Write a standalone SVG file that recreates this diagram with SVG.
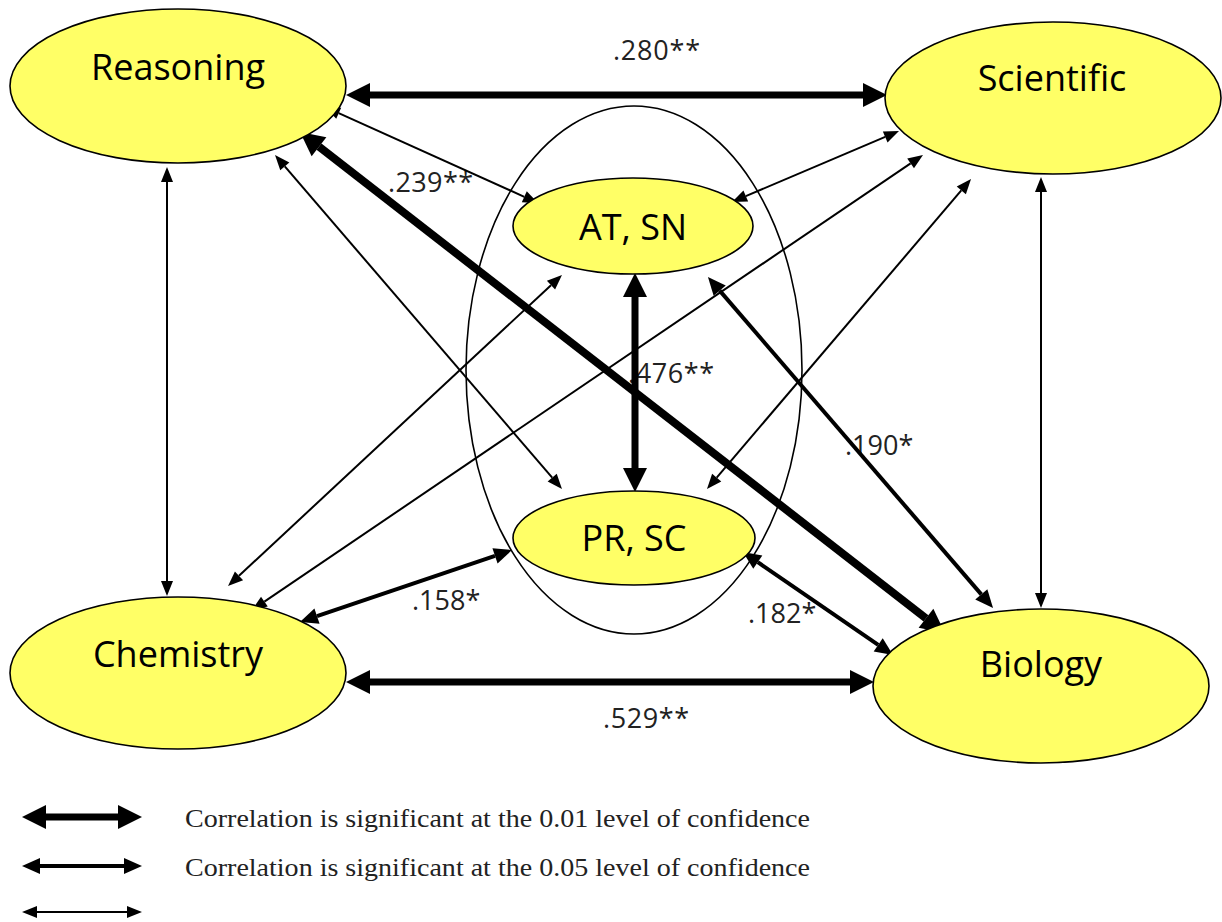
<svg xmlns="http://www.w3.org/2000/svg" width="1222" height="922" viewBox="0 0 1222 922">
<style>
.node{fill:#FFFF66;stroke:#000;stroke-width:1.6}
.ntext{font-family:"Open Sans","Noto Sans",sans-serif;font-size:36px;fill:#000;text-anchor:middle}
.lbl{font-family:"Open Sans","Noto Sans",sans-serif;font-size:27px;fill:#222}
.thick{stroke:#000;stroke-width:7;fill:none;marker-start:url(#hThick);marker-end:url(#hThick)}
.med{stroke:#000;stroke-width:4;fill:none;marker-start:url(#hMed);marker-end:url(#hMed)}
.thin{stroke:#000;stroke-width:2;fill:none;marker-start:url(#hThin);marker-end:url(#hThin)}
.leg{font-family:"Liberation Serif","Times New Roman",serif;font-size:26px;fill:#222}
</style>
<defs>
<marker id="hThick" markerUnits="userSpaceOnUse" markerWidth="26" markerHeight="24" refX="0" refY="12" orient="auto-start-reverse" overflow="visible"><path d="M0,0 L24,12 L0,24 z" fill="#000"/></marker>
<marker id="hMed" markerUnits="userSpaceOnUse" markerWidth="20" markerHeight="18" refX="0" refY="8" orient="auto-start-reverse" overflow="visible"><path d="M0,0 L18,8 L0,16 z" fill="#000"/></marker>
<marker id="hThin" markerUnits="userSpaceOnUse" markerWidth="16" markerHeight="14" refX="0" refY="6" orient="auto-start-reverse" overflow="visible"><path d="M0,0 L15,6 L0,12 z" fill="#000"/></marker>
</defs>
<rect width="1222" height="922" fill="#fff"/>
<ellipse id="group-ellipse" cx="634" cy="370" rx="168" ry="264" fill="none" stroke="#000" stroke-width="1.6"/>
<g id="labels">
<text class="lbl" x="613" y="60" textLength="87">.280**</text>
<text class="lbl" x="388" y="192" textLength="85">.239**</text>
<text class="lbl" x="628" y="383" textLength="86">.476**</text>
<text class="lbl" x="845" y="455">.190*</text>
<text class="lbl" x="412" y="610">.158*</text>
<text class="lbl" x="748" y="623">.182*</text>
<text class="lbl" x="603" y="728" textLength="86">.529**</text>
</g>
<g id="connectors">
<line class="thick" x1="370" y1="95" x2="863" y2="95"/>
<line class="thick" x1="370" y1="682" x2="850" y2="682"/>
<line class="thick" x1="635" y1="297" x2="635" y2="468"/>
<line class="thick" x1="319" y1="146.7" x2="926" y2="618.3" style="stroke-width:8"/>
<line class="med" x1="317" y1="616.2" x2="495" y2="555.8"/>
<line class="med" x1="757.8" y1="562.2" x2="878.2" y2="644.8"/>
<line class="med" x1="719.7" y1="290.6" x2="981.3" y2="594.4"/>
<line class="thin" x1="167" y1="182" x2="167" y2="581"/>
<line class="thin" x1="1041" y1="192" x2="1041" y2="593"/>
<line class="thin" x1="338.7" y1="113.2" x2="524.3" y2="196.8"/>
<line class="thin" x1="284.8" y1="166.4" x2="552.2" y2="477.6"/>
<line class="thin" x1="885.2" y1="136.9" x2="745.8" y2="196.1"/>
<line class="thin" x1="910.6" y1="163.4" x2="264.4" y2="601.6"/>
<line class="thin" x1="961.3" y1="190.4" x2="716.7" y2="477.6"/>
<line class="thin" x1="239" y1="575.8" x2="551" y2="285.2"/>
</g>
<g id="reasoning"><ellipse class="node" cx="178" cy="86" rx="168" ry="77"/><text class="ntext" x="178" y="80">Reasoning</text></g>
<g id="scientific"><ellipse class="node" cx="1053" cy="98" rx="168" ry="76"/><text class="ntext" x="1052" y="91">Scientific</text></g>
<g id="chemistry"><ellipse class="node" cx="178" cy="673" rx="168" ry="76"/><text class="ntext" x="178" y="667">Chemistry</text></g>
<g id="biology"><ellipse class="node" cx="1041" cy="686" rx="168" ry="77"/><text class="ntext" x="1041" y="677">Biology</text></g>
<g id="at-sn"><ellipse class="node" cx="633" cy="226" rx="120" ry="48"/><text class="ntext" x="633" y="240">AT, SN</text></g>
<g id="pr-sc"><ellipse class="node" cx="634" cy="538" rx="121" ry="47"/><text class="ntext" x="634" y="551">PR, SC</text></g>
<g id="legend">
<line class="thick" x1="46" y1="817" x2="118" y2="817"/>
<line class="med" x1="40" y1="866" x2="124" y2="866"/>
<line class="thin" x1="37" y1="912" x2="127" y2="912"/>
<text class="leg" x="185" y="827" textLength="625" lengthAdjust="spacingAndGlyphs">Correlation is significant at the 0.01 level of confidence</text>
<text class="leg" x="185" y="876" textLength="625" lengthAdjust="spacingAndGlyphs">Correlation is significant at the 0.05 level of confidence</text>
</g>
</svg>
